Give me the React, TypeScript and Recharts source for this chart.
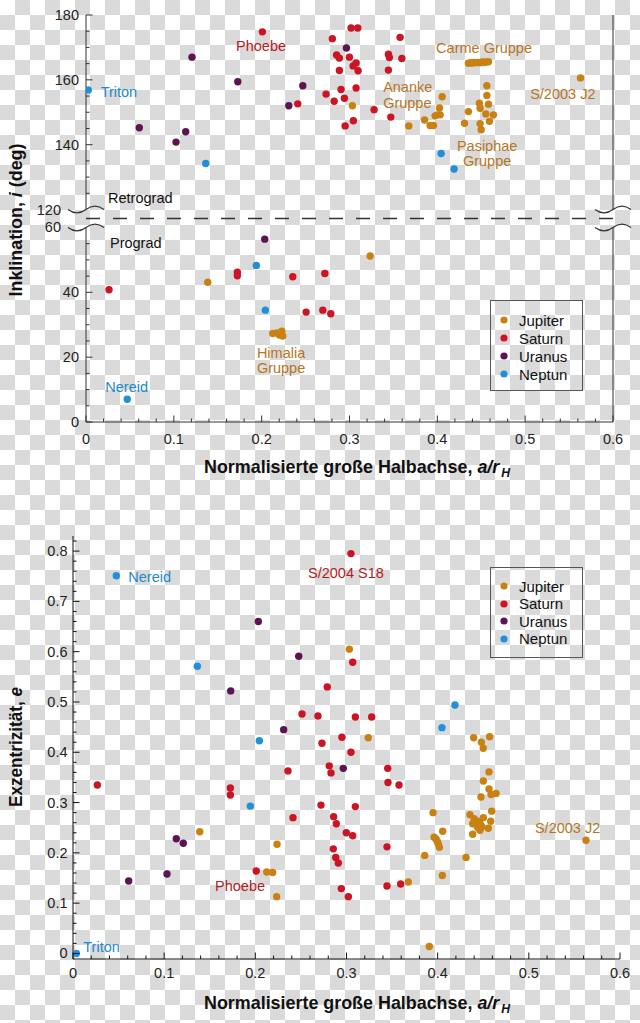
import React from "react";
import {
  ScatterChart,
  Scatter,
  XAxis,
  YAxis,
  ReferenceLine,
  ReferenceDot,
  Legend,
  Label,
} from "recharts";

const FONT = '"Liberation Sans", Arial, sans-serif';
const TITLE_FONT = '"Liberation Sans Narrow", "Liberation Sans", Arial, sans-serif';

const DOT: Record<string, string> = {
  Jupiter: "#c98112",
  Saturn: "#cc1424",
  Uranus: "#5c1452",
  Neptun: "#2090d9",
};
const NOTE: Record<string, string> = {
  Jupiter: "#b8751e",
  Saturn: "#b31b22",
  Uranus: "#5c1452",
  Neptun: "#2389cc",
  none: "#111",
};

// [a/rH, Inklination in Grad]
const jupiterInc: [number, number][] = [
  [0.1386, 43.1], [0.2126, 27.3], [0.2172, 27.5], [0.2229, 28.0], [0.224, 26.5], [0.2202, 26.8],
  [0.3235, 51.2], [0.3033, 152.0], [0.3675, 145.8],
  [0.3855, 147.6], [0.3918, 145.9], [0.3956, 145.9], [0.3975, 148.9], [0.3998, 149.2],
  [0.4032, 149.2], [0.4024, 151.3], [0.4055, 154.8],
  [0.4354, 165.1], [0.4378, 165.3], [0.44, 165.2], [0.4422, 165.4], [0.4444, 165.3],
  [0.4466, 165.4], [0.4488, 165.3], [0.451, 165.5], [0.4532, 165.4], [0.4556, 165.5], [0.4582, 165.6],
  [0.4309, 146.6], [0.4354, 150.2], [0.4479, 152.8], [0.4487, 151.2], [0.4487, 146.5],
  [0.4499, 144.6], [0.4552, 149.5], [0.4564, 158.2], [0.4564, 155.2], [0.4582, 152.5],
  [0.4593, 147.2], [0.4639, 149.2], [0.563, 160.6],
];
const saturnInc: [number, number][] = [
  [0.0262, 40.8], [0.1723, 46.2], [0.1723, 45.1], [0.2354, 44.8], [0.2506, 33.9],
  [0.2696, 34.5], [0.2719, 45.8], [0.2787, 33.4],
  [0.2008, 174.8], [0.2411, 152.6], [0.2733, 155.6], [0.2805, 172.7], [0.2825, 153.4],
  [0.2853, 167.7], [0.2885, 166.7], [0.2885, 162.9], [0.2904, 157.0], [0.2942, 154.3],
  [0.295, 145.8], [0.2999, 167.0], [0.3018, 176.0], [0.3041, 164.3], [0.3044, 147.4],
  [0.3075, 165.2], [0.3075, 157.5], [0.3094, 176.0], [0.3098, 162.8], [0.328, 150.8],
  [0.3443, 167.9], [0.3454, 166.9], [0.3443, 163.0], [0.347, 148.5], [0.3576, 173.1], [0.3596, 166.6],
];
const uranusInc: [number, number][] = [
  [0.0607, 145.2], [0.1025, 140.8], [0.1135, 144.0], [0.1207, 167.0], [0.1728, 159.4],
  [0.2035, 56.4], [0.2309, 152.0], [0.2468, 158.2], [0.2965, 169.8],
];
const neptuneInc: [number, number][] = [
  [0.0026, 156.9], [0.047, 7.0], [0.1363, 134.2], [0.194, 48.3], [0.2042, 34.5],
  [0.4043, 137.3], [0.4191, 132.5],
];

// [a/rH, Exzentrizität]
const jupiterEcc: [number, number][] = [
  [0.139, 0.242], [0.2125, 0.162], [0.219, 0.161], [0.2234, 0.113], [0.2238, 0.217],
  [0.3031, 0.605], [0.3239, 0.429], [0.3678, 0.142], [0.3858, 0.195], [0.3908, 0.014],
  [0.3949, 0.28], [0.3961, 0.231], [0.3983, 0.227], [0.3997, 0.222], [0.4008, 0.217],
  [0.4019, 0.211], [0.4051, 0.155], [0.4055, 0.243], [0.4311, 0.191],
  [0.4354, 0.276], [0.4384, 0.258], [0.4384, 0.237], [0.4399, 0.268], [0.441, 0.26],
  [0.442, 0.264], [0.4428, 0.255], [0.444, 0.25], [0.4457, 0.262], [0.4464, 0.245],
  [0.447, 0.256], [0.4484, 0.252], [0.4501, 0.27], [0.4555, 0.249], [0.4582, 0.263], [0.4592, 0.283],
  [0.4475, 0.311], [0.4501, 0.343], [0.4563, 0.361], [0.4563, 0.327], [0.4585, 0.316], [0.464, 0.318],
  [0.4395, 0.429], [0.4479, 0.42], [0.45, 0.408], [0.457, 0.431], [0.5627, 0.225],
];
const saturnEcc: [number, number][] = [
  [0.0267, 0.335], [0.1726, 0.329], [0.1726, 0.315], [0.201, 0.164], [0.2358, 0.363],
  [0.2413, 0.27], [0.2512, 0.476], [0.2687, 0.472], [0.272, 0.295], [0.2731, 0.418],
  [0.2789, 0.53], [0.2811, 0.373], [0.283, 0.359], [0.2859, 0.272], [0.2888, 0.258],
  [0.2855, 0.208], [0.2882, 0.191], [0.291, 0.18], [0.2943, 0.129], [0.295, 0.43],
  [0.2998, 0.24], [0.302, 0.113], [0.3049, 0.795], [0.3049, 0.4], [0.3068, 0.579],
  [0.3068, 0.234], [0.3097, 0.47], [0.3097, 0.292], [0.3276, 0.47], [0.3444, 0.212],
  [0.3444, 0.134], [0.3452, 0.368], [0.3455, 0.34], [0.3576, 0.335], [0.3594, 0.138],
];
const uranusEcc: [number, number][] = [
  [0.0611, 0.144], [0.1031, 0.158], [0.1133, 0.228], [0.121, 0.219], [0.173, 0.522],
  [0.2033, 0.66], [0.2311, 0.445], [0.2476, 0.591], [0.2965, 0.368],
];
const neptuneEcc: [number, number][] = [
  [0.0037, 0.0], [0.0475, 0.751], [0.1364, 0.571], [0.1945, 0.293], [0.2044, 0.423],
  [0.4047, 0.449], [0.419, 0.494],
];

const planets = ["Jupiter", "Saturn", "Uranus", "Neptun"];
const incSeries = [jupiterInc, saturnInc, uranusInc, neptuneInc];
const eccSeries = [jupiterEcc, saturnEcc, uranusEcc, neptuneEcc];

const aTicks = Array.from({ length: 31 }, (_, k) => (k * 2) / 100);
const incTickDeg = [
  0, 5, 10, 15, 20, 25, 30, 35, 40, 45, 50, 55, 60,
  120, 125, 130, 135, 140, 145, 150, 155, 160, 165, 170, 175, 180,
];
const eTicks = Array.from({ length: 42 }, (_, k) => (k * 2) / 100);

// gebrochene Achse: 60..120 Grad ausgeblendet
const GAP = 5.54;
const toAxis = (i: number) => (i >= 90 ? i - 60 + GAP : i);
const fromAxis = (v: number) => (v > 60 + GAP / 2 ? v + 60 - GAP : v);
const incTicks = incTickDeg.map(toAxis);

const incNotes = [
  { lines: ["Phoebe"], a: 0.1708, i: 170.5, who: "Saturn", anchor: "start" },
  { lines: ["Triton"], a: 0.0167, i: 156.3, who: "Neptun", anchor: "start" },
  { lines: ["Retrograd"], a: 0.0251, i: 123.5, who: "none", anchor: "start" },
  { lines: ["Prograd"], a: 0.0273, i: 55.2, who: "none", anchor: "start" },
  { lines: ["Carme Gruppe"], a: 0.3986, i: 170.0, who: "Jupiter", anchor: "start" },
  { lines: ["Ananke", "Gruppe"], a: 0.3383, i: 157.8, who: "Jupiter", anchor: "start" },
  { lines: ["S/2003 J2"], a: 0.5057, i: 155.7, who: "Jupiter", anchor: "start" },
  { lines: ["Pasiphae", "Gruppe"], a: 0.4567, i: 139.7, who: "Jupiter", anchor: "middle" },
  { lines: ["Himalia", "Gruppe"], a: 0.2221, i: 21.4, who: "Jupiter", anchor: "middle" },
  { lines: ["Nereid"], a: 0.022, i: 10.8, who: "Neptun", anchor: "start" },
];
const eccNotes = [
  { lines: ["Nereid"], a: 0.0607, e: 0.749, who: "Neptun", anchor: "start" },
  { lines: ["S/2004 S18"], a: 0.2578, e: 0.757, who: "Saturn", anchor: "start" },
  { lines: ["Phoebe"], a: 0.1558, e: 0.134, who: "Saturn", anchor: "start" },
  { lines: ["Triton"], a: 0.0113, e: 0.0125, who: "Neptun", anchor: "start" },
  { lines: ["S/2003 J2"], a: 0.5067, e: 0.25, who: "Jupiter", anchor: "start" },
];

const isMult = (v: number, step: number) => Math.abs(v / step - Math.round(v / step)) < 1e-6;
const fmt = (v: number) => (v === 0 ? "0" : v.toFixed(1));

function hTick(side: "bottom" | "top", stroke: string, labelDy: number) {
  return (p: any) => {
    const { x, y, payload } = p;
    const v = payload.value;
    const major = isMult(v, 0.1);
    const len = major ? 6.5 : 3.5;
    const dir = side === "bottom" ? -1 : 1;
    return (
      <g>
        <line x1={x} y1={y} x2={x} y2={y + dir * len} stroke={stroke} />
        {side === "bottom" && major && (
          <text x={x} y={y + labelDy} textAnchor="middle" fontSize={14.5} fontFamily={FONT} fill="#222">
            {fmt(v)}
          </text>
        )}
      </g>
    );
  };
}

function incTick(side: "left" | "right", stroke: string) {
  return (p: any) => {
    const { x, y, payload } = p;
    const deg = Math.round(fromAxis(payload.value));
    const txt = (dx: number) => (
      <text x={x - dx} y={y + 5} textAnchor="end" fontSize={14.5} fontFamily={FONT} fill="#222">
        {deg}
      </text>
    );
    if (deg === 60 || deg === 120) return <g>{side === "left" && txt(25)}</g>;
    const major = deg % 20 === 0;
    const len = major ? 6.5 : 3.5;
    const dir = side === "left" ? 1 : -1;
    return (
      <g>
        <line x1={x} y1={y} x2={x + dir * len} y2={y} stroke={stroke} />
        {side === "left" && major && txt(7)}
      </g>
    );
  };
}

function eTick(side: "left" | "right", stroke: string) {
  return (p: any) => {
    const { x, y, payload } = p;
    const v = payload.value;
    const major = isMult(v, 0.1);
    const len = major ? 6.5 : 3.5;
    const dir = side === "left" ? 1 : -1;
    return (
      <g>
        <line x1={x} y1={y} x2={x + dir * len} y2={y} stroke={stroke} />
        {side === "left" && major && (
          <text x={x - 5.5} y={y + 5} textAnchor="end" fontSize={14.5} fontFamily={FONT} fill="#222">
            {fmt(v)}
          </text>
        )}
      </g>
    );
  };
}

const dotShape = (color: string) => (p: any) => <circle cx={p.cx} cy={p.cy} r={3.7} fill={color} />;

const noteShape = (lines: string[], color: string, anchor: string) => (p: any) => (
  <text x={p.cx} y={p.cy} fill={color} fontSize={14.5} fontFamily={FONT} textAnchor={anchor}>
    {lines.map((l, k) => (
      <tspan key={k} x={p.cx} dy={k === 0 ? "0.36em" : 15.5}>
        {l}
      </tspan>
    ))}
  </text>
);

const waveShape = (stroke: string) => (p: any) => (
  <path
    d={`M${p.cx - 18},${p.cy} C${p.cx - 12},${p.cy + 4.5} ${p.cx - 6},${p.cy + 4.5} ${p.cx},${p.cy} C${p.cx + 6},${p.cy - 4.5} ${p.cx + 12},${p.cy - 4.5} ${p.cx + 18},${p.cy}`}
    fill="none"
    stroke={stroke}
    strokeWidth={1.2}
  />
);

function LegendBox({ payload, rowH }: any) {
  const items = [...(payload || [])].sort(
    (p: any, q: any) => planets.indexOf(p.value) - planets.indexOf(q.value)
  );
  return (
    <div
      style={{
        width: 93,
        height: 91,
        boxSizing: "border-box",
        border: "1.5px solid #555",
        paddingTop: 10,
        fontFamily: FONT,
        fontSize: 15,
        color: "#111",
      }}
    >
      {items.map((e: any) => (
        <div key={e.value} style={{ display: "flex", alignItems: "center", height: rowH }}>
          <svg width={28} height={10} style={{ flex: "none" }}>
            <circle cx={13} cy={5} r={3.6} fill={e.color} />
          </svg>
          <span>{e.value}</span>
        </div>
      ))}
    </div>
  );
}

const xTitle = (dx: number, dy: number) => (p: any) => {
  const vb = p.viewBox || { x: 0, y: 0, width: 0 };
  return (
    <text
      x={vb.x + vb.width / 2 + dx}
      y={vb.y + dy}
      textAnchor="middle"
      fontFamily={TITLE_FONT}
      fontWeight="bold"
      fontSize={19}
      fill="#111"
      textLength={306}
      lengthAdjust="spacingAndGlyphs"
    >
      Normalisierte große Halbachse, <tspan fontStyle="italic">a/r</tspan>
      <tspan fontStyle="italic" fontSize={13} dx={2} dy={4}>H</tspan>
    </text>
  );
};

const yTitle = (cy: number, len: number, head: string, sym: string, tail: string) => (p: any) => (
  <text
    x={22}
    y={cy}
    transform={`rotate(-90, 22, ${cy})`}
    textAnchor="middle"
    fontFamily={TITLE_FONT}
    fontWeight="bold"
    fontSize={19}
    fill="#111"
    textLength={len}
    lengthAdjust="spacingAndGlyphs"
  >
    {head}
    <tspan fontStyle="italic">{sym}</tspan>
    {tail}
  </text>
);

function InclinationChart() {
  const AX = "#333";
  return (
    <ScatterChart width={640} height={490} margin={{ top: 15, right: 27, bottom: 0, left: 0 }}>
      <XAxis
        type="number"
        dataKey="a"
        domain={[0, 0.6]}
        allowDataOverflow
        ticks={aTicks}
        interval={0}
        tickSize={0}
        tickMargin={0}
        tickLine={false}
        tick={hTick("bottom", AX, 21.5)}
        axisLine={{ stroke: AX }}
        height={68}
      >
        <Label content={xTitle(7.5, 50.6)} />
      </XAxis>
      <XAxis
        xAxisId="t"
        orientation="top"
        type="number"
        domain={[0, 0.6]}
        allowDataOverflow
        ticks={aTicks}
        interval={0}
        tickSize={0}
        tickMargin={0}
        tickLine={false}
        tick={hTick("top", AX, 0)}
        axisLine={{ stroke: AX }}
        height={0}
      />
      <YAxis
        type="number"
        dataKey="y"
        domain={[0, toAxis(180)]}
        allowDataOverflow
        ticks={incTicks}
        interval={0}
        tickSize={0}
        tickMargin={0}
        tickLine={false}
        tick={incTick("left", AX)}
        axisLine={false}
        width={86}
      >
        <Label content={yTitle(220, 153, "Inklination, ", "i", " (deg)")} />
      </YAxis>
      <YAxis
        yAxisId="r"
        orientation="right"
        type="number"
        domain={[0, toAxis(180)]}
        allowDataOverflow
        ticks={incTicks}
        interval={0}
        tickSize={0}
        tickMargin={0}
        tickLine={false}
        tick={incTick("right", AX)}
        axisLine={false}
        width={0}
      />
      <ReferenceLine segment={[{ x: 0, y: 0 }, { x: 0, y: 60 }]} stroke={AX} />
      <ReferenceLine segment={[{ x: 0, y: toAxis(120) }, { x: 0, y: toAxis(180) }]} stroke={AX} />
      <ReferenceLine segment={[{ x: 0.6, y: 0 }, { x: 0.6, y: 60 }]} stroke={AX} />
      <ReferenceLine segment={[{ x: 0.6, y: toAxis(120) }, { x: 0.6, y: toAxis(180) }]} stroke={AX} />
      <ReferenceLine y={60 + GAP / 2} stroke={AX} strokeWidth={1.6} strokeDasharray="14 13" />
      {[0, 0.6].map((a) =>
        [60, 120].map((i) => (
          <ReferenceDot key={`${a}-${i}`} x={a} y={toAxis(i)} r={0} ifOverflow="visible" shape={waveShape(AX)} />
        ))
      )}
      {planets.map((name, k) => (
        <Scatter
          key={name}
          name={name}
          data={incSeries[k].map(([a, i]) => ({ a, y: toAxis(i) }))}
          fill={DOT[name]}
          shape={dotShape(DOT[name])}
          isAnimationActive={false}
        />
      ))}
      {incNotes.map((n) => (
        <ReferenceDot
          key={n.lines[0] + n.a}
          x={n.a}
          y={toAxis(n.i)}
          r={0}
          ifOverflow="visible"
          shape={noteShape(n.lines, NOTE[n.who], n.anchor)}
        />
      ))}
      <Legend
        layout="vertical"
        align="center"
        verticalAlign="middle"
        wrapperStyle={{ left: 490, top: 300, width: 93 }}
        content={(p: any) => <LegendBox payload={p.payload} rowH={18} />}
      />
    </ScatterChart>
  );
}

function EccentricityChart() {
  const AX = "#111";
  return (
    <ScatterChart width={640} height={533} margin={{ top: 46, right: 20, bottom: 0, left: 0 }}>
      <XAxis
        type="number"
        dataKey="a"
        domain={[0, 0.6]}
        allowDataOverflow
        ticks={aTicks}
        interval={0}
        tickSize={0}
        tickMargin={0}
        tickLine={false}
        tick={hTick("bottom", AX, 19.2)}
        axisLine={{ stroke: AX }}
        height={64}
      >
        <Label content={xTitle(10.5, 49.7)} />
      </XAxis>
      <XAxis
        xAxisId="t"
        orientation="top"
        type="number"
        domain={[0, 0.6]}
        allowDataOverflow
        ticks={aTicks}
        interval={0}
        tickSize={0}
        tickMargin={0}
        tickLine={false}
        tick={hTick("top", AX, 0)}
        axisLine={{ stroke: AX }}
        height={0}
      />
      <YAxis
        type="number"
        dataKey="e"
        domain={[-0.011, 0.83]}
        allowDataOverflow
        ticks={eTicks}
        interval={0}
        tickSize={0}
        tickMargin={0}
        tickLine={false}
        tick={eTick("left", AX)}
        axisLine={{ stroke: AX }}
        width={73}
      >
        <Label content={yTitle(257, 120, "Exzentrizität, ", "e", "")} />
      </YAxis>
      <YAxis
        yAxisId="r"
        orientation="right"
        type="number"
        domain={[-0.011, 0.83]}
        allowDataOverflow
        ticks={eTicks}
        interval={0}
        tickSize={0}
        tickMargin={0}
        tickLine={false}
        tick={eTick("right", AX)}
        axisLine={{ stroke: AX }}
        width={0}
      />
      {planets.map((name, k) => (
        <Scatter
          key={name}
          name={name}
          data={eccSeries[k].map(([a, e]) => ({ a, e }))}
          fill={DOT[name]}
          shape={dotShape(DOT[name])}
          isAnimationActive={false}
        />
      ))}
      {eccNotes.map((n) => (
        <ReferenceDot
          key={n.lines[0] + n.a}
          x={n.a}
          y={n.e}
          r={0}
          ifOverflow="visible"
          shape={noteShape(n.lines, NOTE[n.who], n.anchor)}
        />
      ))}
      <Legend
        layout="vertical"
        align="center"
        verticalAlign="middle"
        wrapperStyle={{ left: 490, top: 76.7, width: 93 }}
        content={(p: any) => <LegendBox payload={p.payload} rowH={17.5} />}
      />
    </ScatterChart>
  );
}

export default function App() {
  return (
    <div
      style={{
        position: "absolute",
        left: 0,
        top: 0,
        width: 640,
        height: 1023,
        backgroundColor: "#fff",
        backgroundImage: "conic-gradient(#dadada 25%, #fff 0 50%, #dadada 0 75%, #fff 0)",
        backgroundSize: "30px 30px",
      }}
    >
      <InclinationChart />
      <EccentricityChart />
    </div>
  );
}
